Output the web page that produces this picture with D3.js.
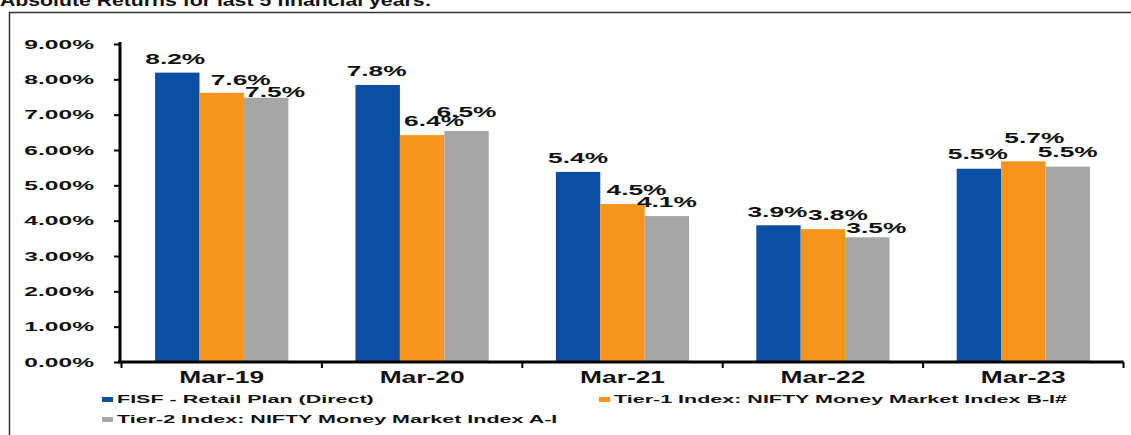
<!DOCTYPE html>
<html>
<head>
<meta charset="utf-8">
<script src="https://cdn.jsdelivr.net/npm/d3@7"></script>
<style>
  html, body { margin: 0; padding: 0; background: #fff; }
  svg { display: block; }
  text { font-family: "Liberation Sans", Arial, sans-serif; font-weight: bold; fill: #111; }
</style>
</head>
<body>
<svg id="chart" width="1131" height="435"></svg>
<script>
// ---- data ----
const categories = ["Mar-19", "Mar-20", "Mar-21", "Mar-22", "Mar-23"];
const seriesNames = [
  "FISF - Retail Plan (Direct)",
  "Tier-1 Index: NIFTY Money Market Index B-I#",
  "Tier-2 Index: NIFTY Money Market Index A-I"
];
const fisfValues  = [8.19, 7.84, 5.38, 3.87, 5.47];
const tier1Values = [7.62, 6.42, 4.47, 3.76, 5.68];
const tier2Values = [7.48, 6.54, 4.13, 3.53, 5.53];
const yTickValues = [0, 1, 2, 3, 4, 5, 6, 7, 8, 9];
const titleText = "Absolute Returns for last 5 financial years:";

// ---- layout / style ----
const colors = ["#0A4FA3", "#F7941D", "#A6A6A6"];
// label nudges [dx from bar centre, gap of baseline above bar top] (mimics Excel overlap avoidance)
const labelNudge = [
  [[-2, 9], [19, 8], [9, 1]],
  [[-1, 9], [12, 9], [0, 14]],
  [[0, 9], [14, 9], [0, 9]],
  [[-1, 8], [15, 9], [9, 4]],
  [[-1, 10], [11, 18], [0, 10]]
];

const svg = d3.select("#chart");
const seriesValues = [fisfValues, tier1Values, tier2Values];

function stretch(sel, sx) {
  sel.each(function () {
    const t = d3.select(this);
    const x = +t.attr("x") || 0;
    t.attr("transform", `translate(${x},0) scale(${sx},1) translate(${-x},0)`);
  });
}

// frame
svg.append("path")
  .attr("d", "M1131,12.5 L9.5,12.5 L9.5,435")
  .attr("fill", "none").attr("stroke", "#333").attr("stroke-width", 1.5);

// title (cut at top)
const title = svg.append("text").attr("x", 0).attr("y", 6)
  .style("font-size", "17px").text(titleText);
{
  const w = title.node().getComputedTextLength();
  stretch(title, 432 / w);
}

const axisX = 120, plotLeft = 121.5, plotRight = 1123.5, plotTop = 44, plotBottom = 362;

const y = d3.scaleLinear().domain([0, 9]).range([plotBottom, plotTop]);
const x0 = d3.scaleBand().domain(categories).range([plotLeft, plotRight])
  .paddingInner(0.335).paddingOuter(0.1675);
const x1 = d3.scaleBand().domain(d3.range(seriesNames.length)).range([0, x0.bandwidth()]);

// bars
const groups = svg.append("g").selectAll("g").data(categories).join("g")
  .attr("transform", d => `translate(${x0(d)},0)`);
groups.selectAll("rect")
  .data((c, i) => seriesValues.map((vals, s) => ({ s, v: vals[i] })))
  .join("rect")
  .attr("x", d => x1(d.s))
  .attr("width", x1.bandwidth())
  .attr("y", d => y(d.v))
  .attr("height", d => y(0) - y(d.v))
  .attr("fill", d => colors[d.s]);

// y axis
const yAxis = svg.append("g").attr("transform", `translate(${axisX},0)`)
  .call(d3.axisLeft(y).tickValues(yTickValues).tickSize(6).tickPadding(20)
    .tickFormat(d => d3.format(".2f")(d) + "%"));
yAxis.select(".domain").attr("stroke", "#000").attr("stroke-width", 3)
  .attr("d", `M0,${plotTop - 2}V${plotBottom + 1}`);
yAxis.selectAll(".tick line").attr("stroke", "#000").attr("stroke-width", 2);
yAxis.selectAll(".tick text").style("font-size", "12px").attr("fill", "#111")
  .attr("dy", "0.36em").attr("font-family", null);
yAxis.selectAll(".tick text").each(function () {
  const t = d3.select(this);
  const x = +t.attr("x");
  t.attr("transform", `translate(${x},0) scale(2.05,1) translate(${-x},0)`);
});

// x axis
const xAxis = svg.append("g").attr("transform", `translate(0,${plotBottom})`)
  .call(d3.axisBottom(x0).tickSize(0).tickPadding(0));
xAxis.select(".domain").attr("stroke", "#000").attr("stroke-width", 3)
  .attr("d", `M${axisX - 2},0H${plotRight}`);
xAxis.selectAll(".tick text").style("font-size", "17px").attr("fill", "#111")
  .attr("y", 21).attr("dy", 0).attr("font-family", null)
  .attr("transform", "scale(1.55,1)");
// boundary tick marks between categories
const bw = (plotRight - plotLeft) / categories.length;
const boundaries = d3.range(categories.length + 1).map(i => plotLeft + i * bw);
xAxis.append("g").selectAll("line").data(boundaries).join("line")
  .attr("x1", d => d).attr("x2", d => d).attr("y1", 0).attr("y2", 6)
  .attr("stroke", "#000").attr("stroke-width", 2);

// data labels
const labels = svg.append("g");
categories.forEach((c, i) => {
  seriesValues.forEach((vals, s) => {
    const v = vals[i];
    const cx = x0(c) + x1(s) + x1.bandwidth() / 2 + labelNudge[i][s][0];
    const t = labels.append("text")
      .attr("x", cx).attr("y", y(v) - labelNudge[i][s][1])
      .attr("text-anchor", "middle").style("font-size", "14px")
      .text(v.toFixed(1) + "%");
    stretch(t, 1.88);
  });
});

// legend
const legendItems = [
  { s: 0, x: 117, y: 403 },
  { s: 1, x: 614, y: 403 },
  { s: 2, x: 117, y: 423 }
];
const lg = svg.append("g");
legendItems.forEach(it => {
  lg.append("rect").attr("x", it.x - 15).attr("y", it.y - 6).attr("width", 11).attr("height", 5)
    .attr("fill", colors[it.s]);
  const t = lg.append("text").attr("x", it.x).attr("y", it.y)
    .style("font-size", "11.5px").text(seriesNames[it.s]);
  stretch(t, 1.87);
});
</script>
</body>
</html>
